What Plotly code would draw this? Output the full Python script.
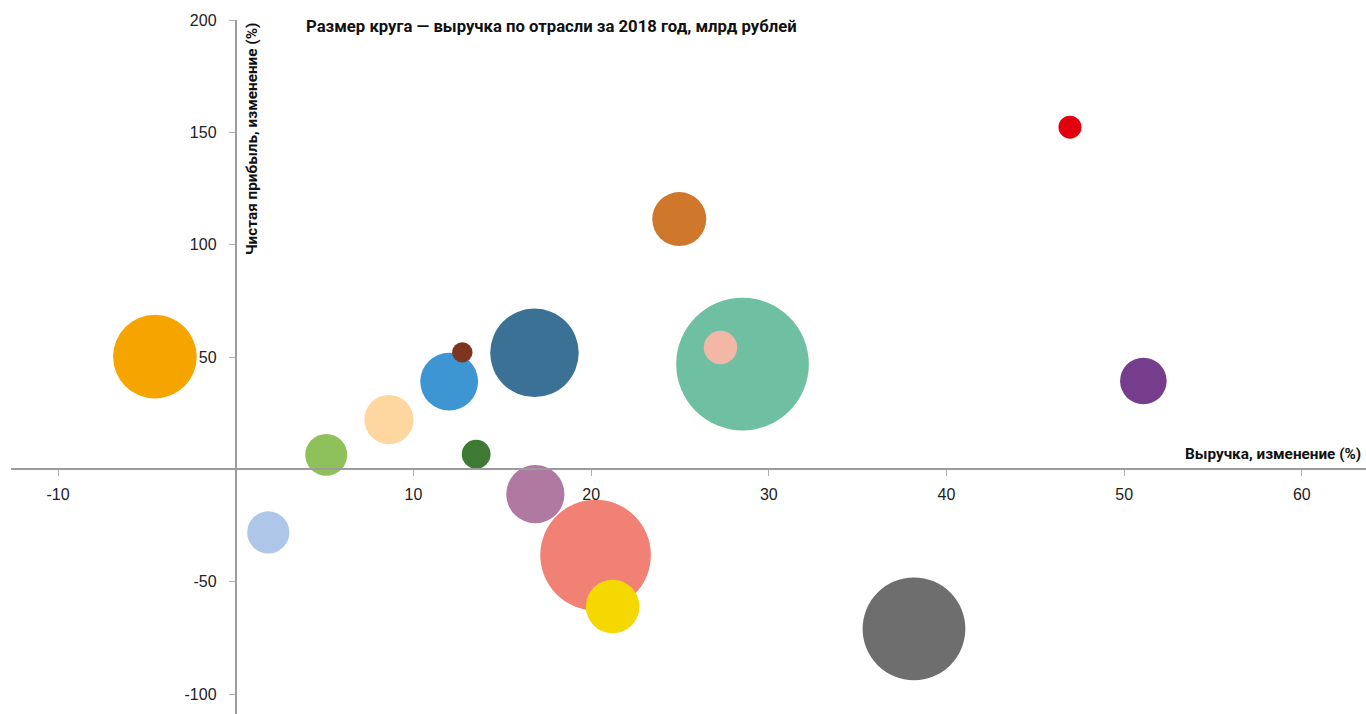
import plotly.graph_objects as go

# Industry bubbles: revenue change (%), net profit change (%), revenue 2018 (bn rubles)
revenue_change = [-4.55, 1.83, 5.09, 8.62, 12.01, 12.75, 13.53, 16.81, 16.86,
                  20.25, 21.21, 24.96, 28.52, 27.28, 38.17, 46.95, 51.08]
profit_change = [50.2, -28.0, 6.5, 22.2, 39.1, 52.1, 6.8, 51.9, -11.0,
                 -38.1, -61.0, 111.4, 46.9, 54.3, -70.9, 152.3, 39.4]
revenue_2018 = [1750, 445, 440, 605, 835, 104, 207, 1960, 847,
                3060, 718, 729, 4400, 279, 2640, 132, 543]

x_ticks = [-10, 10, 20, 30, 40, 50, 60]
y_ticks = [-100, -50, 50, 100, 150, 200]

palette = ["#F5A400", "#AEC7E8", "#8FC15B", "#FDD6A0", "#3D95D2", "#7E3520",
           "#3E7A34", "#3B7195", "#B079A1", "#F08174", "#F5D800", "#CF782B",
           "#6FC0A3", "#F3B8A5", "#6E6E6E", "#E2000F", "#763D8D"]

W, H = 1366, 714
ML, MR, MT, MB = 11, 0, 20, 0
x_range = [-12.65, 63.61]
y_range = [-108.8, 200]

fig = go.Figure(go.Scatter(
    x=revenue_change,
    y=profit_change,
    mode="markers",
    marker=dict(size=revenue_2018, sizemode="area", sizeref=0.5,
                color=palette, opacity=1, line=dict(width=0)),
    hovertemplate="Выручка: %{x}%<br>Чистая прибыль: %{y}%<br>%{marker.size} млрд руб.<extra></extra>",
))

axis_common = dict(
    showline=True, linecolor="#9c9c9c", linewidth=2,
    showgrid=False, zeroline=False,
    ticks="outside", ticklen=6, tickwidth=1, tickcolor="#b0b0b0",
    tickfont=dict(family="Liberation Sans, Arial, sans-serif", size=16, color="#222222"),
    anchor="free",
)

fig.update_layout(
    width=W, height=H,
    margin=dict(l=ML, r=MR, t=MT, b=MB, pad=0),
    paper_bgcolor="white", plot_bgcolor="white",
    showlegend=False,
    xaxis=dict(range=x_range, tickvals=x_ticks, ticktext=[str(v) for v in x_ticks],
               position=(0 - y_range[0]) / (y_range[1] - y_range[0]),
               ticklabelstandoff=4, **axis_common),
    yaxis=dict(range=y_range, tickvals=y_ticks, ticktext=[str(v) for v in y_ticks],
               position=(0 - x_range[0]) / (x_range[1] - x_range[0]),
               ticklabelstandoff=9, **axis_common),
)

title_font = dict(family="Roboto", size=16.7, color="#111111", weight="bold")
axis_title_font = dict(family="Roboto", size=15.3, color="#111111", weight="bold")
pw, ph = W - ML - MR, H - MT - MB


def px_x(p):
    return (p - ML) / pw


def px_y(p):
    return 1 - (p - MT) / ph


fig.add_annotation(text="<b>Размер круга — выручка по отрасли за 2018 год, млрд рублей</b>",
                   xref="paper", yref="paper", x=px_x(304), y=px_y(27),
                   xanchor="left", yanchor="middle", showarrow=False, font=title_font)
fig.add_annotation(text="<b>Чистая прибыль, изменение (%)</b>",
                   xref="paper", yref="paper", x=px_x(252), y=px_y(21),
                   xanchor="center", yanchor="top", textangle=-90,
                   showarrow=False, font=axis_title_font)
fig.add_annotation(text="<b>Выручка, изменение (%)</b>",
                   xref="paper", yref="paper", x=px_x(1363), y=px_y(454),
                   xanchor="right", yanchor="middle", showarrow=False, font=axis_title_font)

fig.write_html("out.html")
